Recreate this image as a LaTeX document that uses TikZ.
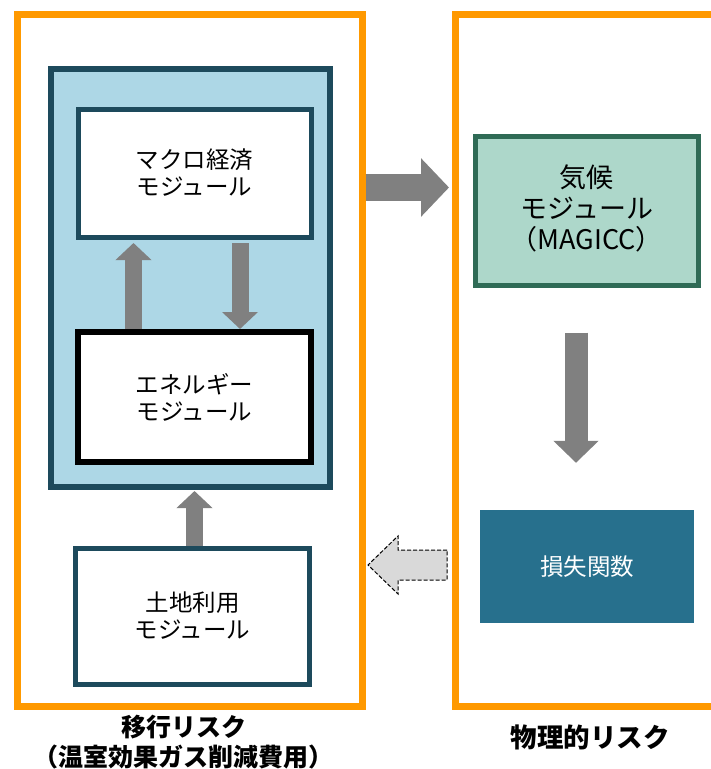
\documentclass[tikz,border=0pt]{standalone}
\usepackage{fontspec}
\newfontfamily\jp{Noto Sans CJK JP}
\usetikzlibrary{arrows.meta}
\definecolor{orng}{HTML}{FF9900}
\definecolor{dteal}{HTML}{1D4A5C}
\definecolor{lblue}{HTML}{ADD7E6}
\definecolor{mint}{HTML}{ADD7CA}
\definecolor{dgreen}{HTML}{2F6B56}
\definecolor{lossc}{HTML}{27708D}
\definecolor{grayc}{HTML}{808080}
\definecolor{dashfill}{HTML}{D9D9D9}
\tikzset{
  frame/.style={draw=orng, line width=7pt},
  modbox/.style={draw=dteal, line width=5pt, fill=white, align=center, inner sep=0pt,
    font=\jp\fontsize{23.5}{27}\selectfont},
  blk/.style={draw=grayc, line width=17pt,
    -{Triangle[width=35pt,length=17pt]}},
  lbl/.style={align=center, font=\jp\bfseries\fontsize{25}{30}\selectfont},
}
\begin{document}
\begin{tikzpicture}[x=1pt,y=-1pt]
\useasboundingbox (0,0) rectangle (711,769);
\fill[white] (0,0) rectangle (711,769);
% frames
\node[frame, minimum width=344.5pt, minimum height=692pt, inner sep=0pt] (leftframe) at (189.75,360) {};
\draw[frame] (716,14) -- (455.5,14) -- (455.5,706) -- (716,706);
\coordinate (rfwest) at (452,187.5);
% blue container
\node[draw=dteal, fill=lblue, line width=6pt, minimum width=279pt, minimum height=418.5pt, inner sep=0pt] (blue) at (190,277.75) {};
% modules
\node[modbox, minimum width=233pt, minimum height=128pt] (macro) at (194.5,173) {マクロ経済\\モジュール};
\node[modbox, draw=black, line width=6pt, minimum width=233pt, minimum height=130pt] (energy) at (194.5,397) {エネルギー\\モジュール};
\node[modbox, minimum width=234pt, minimum height=136pt] (land) at (192.5,616) {土地利用\\モジュール};
\node[modbox, draw=dgreen, fill=mint, minimum width=222.5pt, minimum height=149pt,
  font=\jp\fontsize{27}{31}\selectfont] (climate) at (586.75,211) {};
\node[align=center, font=\jp\fontsize{27}{31}\selectfont] (climtext) at (586.75,208.5) {気候\\モジュール\\（MAGICC）};
\node[fill=lossc, text=white, minimum width=214pt, minimum height=113pt, inner sep=0pt,
  font=\jp\fontsize{23.5}{27}\selectfont] (loss) at (587,566.5) {損失関数};
% arrows
\coordinate (ux1) at (133.5,0);
\coordinate (ux2) at (240,0);
\coordinate (ux3) at (194.5,0);
\coordinate (ux4) at (576,0);
\draw[blk, shorten >=3.5pt] (energy.north -| ux1) -- (macro.south -| ux1);
\draw[blk, shorten <=3.5pt] (macro.south -| ux2) -- (energy.north -| ux2);
\draw[blk, shorten >=1pt] (land.north -| ux3) -- (blue.south -| ux3);
\draw[draw=grayc, line width=27pt, -{Triangle[width=57pt,length=28pt]}, shorten >=3pt]
  (leftframe.east |- rfwest) -- (rfwest);
\draw[draw=grayc, line width=23pt, -{Triangle[width=44pt,length=22pt]},
  shorten <=44.5pt, shorten >=47pt] (climate.south -| ux4) -- (loss.north -| ux4);
% dashed return arrow
\draw[dash pattern=on 4pt off 2pt, fill=dashfill, line width=1pt]
  (447,550) -- (398,550) -- (398,536) -- (368,565) -- (398,594) -- (398,580) -- (447,580) -- cycle;
% labels
\node[lbl] (lbl1) at (184,742) {移行リスク\\（温室効果ガス削減費用）};
\node[lbl, font=\jp\bfseries\fontsize{26.5}{30}\selectfont] (lbl2) at (590,737) {物理的リスク};
\end{tikzpicture}
\end{document}
